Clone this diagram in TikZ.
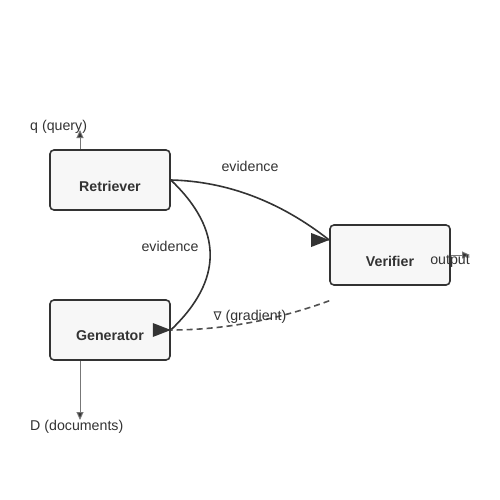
\documentclass[tikz,border=0pt]{standalone}
\usepackage{fontspec}
\setmainfont{Liberation Sans}
\newfontfamily\symfont{DejaVu Sans}
\usetikzlibrary{arrows.meta}
\definecolor{edgec}{HTML}{333333}
\definecolor{boxfill}{HTML}{F7F7F7}
\definecolor{thin}{HTML}{777777}
\begin{document}
\begin{tikzpicture}[x=1pt,y=-1pt,
  box/.style={draw=edgec,line width=1.6pt,fill=boxfill,rounded corners=4pt,minimum width=120pt,minimum height=60pt,inner sep=0pt},
  lbl/.style={font=\fontsize{14.2pt}{16pt}\selectfont,text=edgec,inner sep=0pt,yshift=-1.5pt},
  blbl/.style={font=\fontsize{14.2pt}{16pt}\selectfont\bfseries,text=edgec,inner sep=0pt,yshift=-1pt},
  conn/.style={draw=edgec,line width=1.6pt},
  thinarrow/.style={draw=thin,line width=1pt,-{Triangle[length=8pt,width=7pt,fill=edgec]}},
  head/.style={fill=edgec}]
\useasboundingbox (0,0) rectangle (500,500);
\fill[white] (0,0) rectangle (500,500);
\node[box] (ret) at (110,180) {};
\node[blbl] at (110,185) {Retriever};
\node[box] (ver) at (390,255) {};
\node[blbl] at (390,260) {Verifier};
\node[box] (gen) at (110,330) {};
\node[blbl] at (110,335) {Generator};
\node[lbl,anchor=west] (q) at (30,125) {q (query)};
\node[lbl,anchor=west] (d) at (30,425) {D (documents)};
\coordinate (qend) at (80,130);
\coordinate (dend) at (80,420);
\coordinate (outend) at (470,255);
% thin arrows
\draw[thinarrow] ([xshift=-30pt]ret.north) -- (qend);
\draw[thinarrow] ([xshift=-30pt]gen.south) -- (dend);
\draw[thinarrow] (ver.east) -- (outend);
\node[lbl] (out) at (450,260) {output};
% curves
\coordinate (vin) at ([yshift=15pt]ver.west);
\coordinate (vout) at ([yshift=-15pt]ver.south west);
\draw[conn] (ret.east) .. controls (226.7,181.3) and (280,201.3) .. (vin);
\draw[conn] (ret.east) .. controls (223.3,230) and (223.3,280) .. (gen.east);
\draw[conn,dash pattern=on 6pt off 4pt,draw=edgec!85] (vout) .. controls (276.7,320) and (223.3,330) .. (gen.east);
% heads (fixed orientation)
\fill[head] (vin) -- ++(-18,-7) -- ++(0,14) -- cycle;
\fill[head] (gen.east) -- ++(-18,-7) -- ++(0,14) -- cycle;
% labels
\node[lbl] (e1) at (250,165) {evidence};
\node[lbl] (e2) at (170,245) {evidence};
\node[lbl] (g) at (250,315) {{\symfont\fontsize{12pt}{14pt}\selectfont ∇} (gradient)};
\end{tikzpicture}
\end{document}
